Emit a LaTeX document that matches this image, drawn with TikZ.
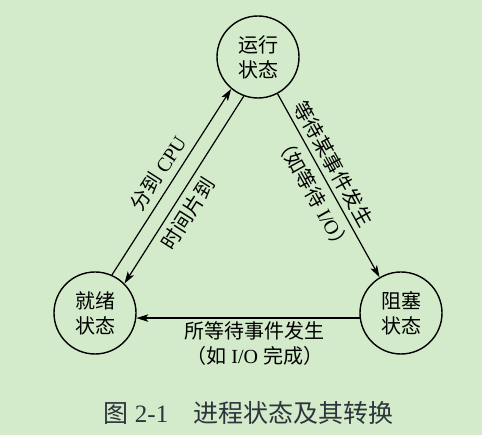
\documentclass[tikz,border=0pt]{standalone}
\usepackage{fontspec}
\setmainfont{Liberation Serif}
\newfontfamily\cjk{Noto Sans CJK SC}
\usetikzlibrary{arrows.meta}
\definecolor{bgreen}{RGB}{211,235,202}
\definecolor{captiongray}{RGB}{45,52,60}
\begin{document}
\begin{tikzpicture}[x=1pt,y=-1pt,
  state/.style={circle, draw, line width=1.4pt, minimum size=82pt, inner sep=0pt,
    align=center, font=\cjk\fontsize{20}{25}\selectfont},
  trans/.style={line width=1.2pt, -{Stealth[length=12pt,width=7.5pt,inset=3pt]}},
  lbl/.style={font=\fontsize{20}{25}\selectfont, inner sep=1pt}]
% page background
\fill[bgreen] (0,0) rectangle (482,435);
\useasboundingbox (0,0) rectangle (482,435);

% the three process states
\node[state] (run)   at (258,57)  {运行\\状态};
\node[state] (ready) at (95,313)  {就绪\\状态};
\node[state] (block) at (401,313) {阻塞\\状态};

% transitions
\draw[trans] (ready.66) -- node[lbl, midway, sloped, above=5pt] {{\cjk 分到} CPU} (run.230);
\draw[trans] (run.250) -- node[lbl, pos=0.58, sloped, below=5pt] {\cjk 时间片到} (ready.45);
\draw[trans] (run.298) --
  node[lbl, pos=0.42, sloped, above=4pt] {\cjk 等待某事件发生}
  node[lbl, pos=0.5, sloped, below=6pt] {{\cjk （如等待} I/O{\cjk ）}} (block.121);
\draw[trans] (block.187) -- node[lbl, pos=0.47, below=2pt, align=center]
  {{\cjk 所等待事件发生}\\{\cjk （如} I/O {\cjk 完成）}} (ready.353);

% caption
\node[font=\fontsize{25}{30}\selectfont, text=captiongray] (cap) at (248.5,413)
  {{\cjk 图} 2-1\hspace{1em}{\cjk 进程状态及其转换}};
\end{tikzpicture}
\end{document}
